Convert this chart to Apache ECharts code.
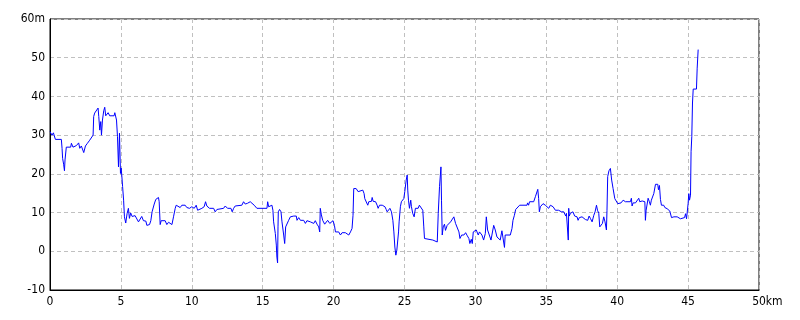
<!DOCTYPE html>
<html>
<head>
<meta charset="utf-8">
<script src="https://cdn.jsdelivr.net/npm/echarts@6/dist/echarts.min.js"></script>
<style>html,body{margin:0;padding:0;background:#fff}#c{width:800px;height:320px}</style>
</head>
<body>
<div id="c"></div>
<script>
const distanceKm = [0.0,0.14,0.24,0.33,0.38,0.80,0.85,0.89,0.96,1.02,1.06,1.15,1.46,1.51,1.62,1.86,2.02,2.10,2.21,2.31,2.38,2.50,2.64,2.80,2.92,3.04,3.08,3.15,3.27,3.39,3.44,3.51,3.58,3.63,3.70,3.79,3.86,3.93,4.10,4.21,4.52,4.57,4.69,4.76,4.83,4.90,4.97,5.02,5.07,5.12,5.19,5.25,5.34,5.44,5.53,5.60,5.69,5.79,6.00,6.12,6.24,6.36,6.47,6.59,6.76,6.83,7.02,7.11,7.20,7.35,7.46,7.53,7.65,7.70,7.77,7.84,7.96,8.12,8.24,8.36,8.48,8.60,8.71,8.83,8.90,9.00,9.18,9.30,9.53,9.65,9.84,10.0,10.17,10.31,10.41,10.55,10.71,10.87,10.97,11.06,11.25,11.54,11.65,11.77,11.89,12.24,12.36,12.52,12.66,12.76,12.85,12.95,13.06,13.18,13.53,13.65,13.77,13.93,14.12,14.24,14.40,14.59,15.30,15.35,15.42,15.49,15.65,15.72,15.77,15.89,15.96,16.00,16.05,16.08,16.10,16.19,16.29,16.36,16.48,16.55,16.62,16.71,16.83,16.95,17.19,17.37,17.42,17.54,17.66,17.77,17.89,18.01,18.12,18.24,18.36,18.48,18.60,18.71,18.83,18.95,19.02,19.06,19.14,19.23,19.37,19.49,19.58,19.73,19.82,19.96,20.06,20.13,20.36,20.48,20.60,20.83,20.95,21.07,21.19,21.30,21.37,21.42,21.59,21.73,21.82,22.06,22.15,22.20,22.32,22.41,22.48,22.67,22.72,22.79,22.96,23.07,23.14,23.24,23.43,23.55,23.62,23.71,23.78,23.90,23.97,24.08,24.18,24.25,24.32,24.39,24.46,24.53,24.58,24.62,24.67,24.71,24.78,24.95,25.02,25.12,25.19,25.23,25.28,25.35,25.44,25.49,25.58,25.68,25.77,25.96,26.05,26.19,26.29,26.36,26.41,26.48,27.00,27.07,27.31,27.38,27.47,27.57,27.61,27.66,27.73,27.82,27.89,28.01,28.13,28.25,28.36,28.48,28.60,28.72,28.84,28.91,29.03,29.19,29.31,29.43,29.54,29.61,29.71,29.78,29.85,29.96,30.06,30.20,30.29,30.41,30.46,30.58,30.70,30.77,30.86,31.00,31.10,31.17,31.29,31.40,31.52,31.64,31.75,31.87,31.99,32.05,32.10,32.46,32.58,32.65,32.75,32.84,32.98,33.12,33.64,33.68,33.75,33.82,34.11,34.23,34.35,34.40,34.46,34.51,34.58,34.70,34.77,34.93,35.05,35.17,35.29,35.48,35.57,35.64,35.76,35.87,35.99,36.06,36.23,36.27,36.37,36.42,36.46,36.51,36.55,36.58,36.62,36.70,36.81,36.88,37.00,37.17,37.24,37.33,37.52,37.64,37.76,37.83,37.92,38.02,38.11,38.23,38.30,38.35,38.44,38.54,38.61,38.70,38.77,38.86,38.96,39.05,39.14,39.24,39.28,39.33,39.42,39.52,39.61,39.71,39.83,39.94,40.04,40.18,40.27,40.42,40.58,40.93,41.00,41.05,41.12,41.29,41.40,41.52,41.59,41.76,41.95,41.99,42.04,42.11,42.18,42.27,42.34,42.41,42.51,42.58,42.70,42.86,42.91,42.98,43.05,43.12,43.28,43.36,43.52,43.64,43.71,43.76,43.83,44.00,44.23,44.35,44.46,44.58,44.75,44.82,44.89,44.98,45.00,45.05,45.10,45.17,45.21,45.26,45.31,45.36,45.59,45.64,45.71];
const elevationM = [30.9,30,30.6,31.0,28.9,28.9,26.6,24,22.5,20.8,23.6,26.9,26.9,27.9,26.9,27.3,28,26.6,27.2,26.9,25.5,27.2,27.9,28.7,28.8,30,34.8,35.7,36.2,37,34.8,31.3,33.5,30,33.9,36.3,37.2,35,35.8,35,35,35.8,33.9,29.6,21.8,30.5,20.1,21.5,19.2,16.7,13.2,8.9,7.3,9.8,11.1,8.5,9.9,9.0,9.2,9.4,7.6,7.9,9.0,7.9,7.8,6.7,6.9,7.9,10.2,12.2,13.4,13.9,13.9,12.8,6.9,7.9,7.9,7.9,6.9,7.5,7.3,6.9,8.9,11.1,11.9,11.5,11.3,11.9,11.9,11.3,11.1,11.5,11.1,11.9,10.6,10.2,11.1,11.5,12.8,11.7,11.1,11.1,10.2,10.8,11.1,11.1,11.7,11.1,10.6,11.1,10.2,11.1,11.7,11.9,11.9,12.8,12.2,12.4,12.8,12.8,11.9,11.1,11.1,12.8,11.5,11.9,11.9,10.6,7.6,4.6,1.6,-1.5,-3.0,6.3,10.2,10.8,10.2,7.6,4.2,2.0,6.3,6.7,8.0,8.9,9.1,9.1,8.0,8.7,8.0,7.9,8.0,7.2,7.9,8.0,7.6,8.0,7.2,7.9,7.0,6.3,5.0,11.1,9.4,8.0,7.0,7.2,8.0,7.2,7.6,7.9,6.7,5.0,5.0,4.2,4.8,4.8,5.0,4.2,5.0,5.9,9.3,16.2,16.2,15.4,15.8,15.8,14.9,13.6,13.9,11.9,12.8,12.9,13.9,12.9,12.8,11.9,11.1,11.9,11.9,12.4,11.5,10.8,10.2,10.6,11.1,10.2,8.0,5.0,1.1,-1.0,0.3,0.0,5.0,7.6,7.2,11.5,12.8,13.6,15.4,18.4,19.7,15.8,13.2,11.1,13.2,11.5,9.8,8.9,11.1,11.1,11.9,11.5,10.6,6.3,3.3,2.9,2.9,2.4,2.4,9.8,16.7,21.8,13.2,4.2,6.3,7.0,5.4,6.7,7.0,7.6,8.0,8.9,7.2,7.0,5.0,3.3,4.2,4.2,4.8,4.0,3.3,2.0,3.1,2.0,5.0,5.0,5.5,4.2,5.0,5.3,4.2,2.9,4.6,8.9,5.5,5.0,2.9,3.3,6.7,5.5,3.7,3.3,2.9,5.3,5.0,1.0,4.2,4.2,5.9,8.0,9.3,10.8,11.1,11.9,11.9,12.5,11.9,12.8,12.8,14.1,14.5,16.0,13.6,10.2,11.5,11.7,12.3,11.9,11.5,11.1,11.9,11.5,11.9,10.6,11.1,10.6,11.1,10.2,10.2,9.8,9.1,9.8,10.2,9.3,2.9,11.1,9.1,9.8,9.3,10.2,9.1,8.9,8.0,8.7,8.9,8.7,8.2,8.7,8.0,9.1,8.5,7.6,7.2,9.3,10.2,11.9,10.6,9.8,6.3,5.9,7.2,8.9,7.6,5.5,10.6,19.3,20.8,21.4,18.4,16.2,13.6,13.2,12.3,12.8,12.5,13.2,12.8,12.8,13.7,11.7,12.5,12.5,12.8,13.7,12.8,13.0,12.8,8.0,10.6,10.2,13.7,12.8,11.9,13.2,13.4,14.9,17.3,17.3,15.9,17.0,13.4,11.9,11.9,11.3,11.0,11.0,10.4,9.9,8.7,8.9,8.9,8.7,8.4,8.9,8.7,9.7,8.4,8.7,12.3,14.9,13.2,14.5,25.7,29.6,38.3,41.9,41.9,47.3,52.1];
const xTicks = {min: 0, max: 50, step: 5, unit: 'km'};
const yTicks = {min: -10, max: 60, step: 10, unit: 'm'};

const points = distanceKm.map((d, i) => [d, elevationM[i]]);
const FONT = '"DejaVu Sans Condensed", "Liberation Sans Narrow", "DejaVu Sans", sans-serif';

const chart = echarts.init(document.getElementById('c'), null, {renderer: 'canvas'});
chart.setOption({
  animation: false,
  backgroundColor: '#ffffff',
  grid: {left: 50, right: 41, top: 19, bottom: 30, show: true, borderColor: '#000', borderWidth: 1, backgroundColor: 'transparent'},
  xAxis: {
    type: 'value', min: xTicks.min, max: xTicks.max, interval: xTicks.step,
    axisLine: {show: true, onZero: false, lineStyle: {color: '#000', width: 1}},
    axisTick: {show: false},
    axisLabel: {color: '#000', fontFamily: FONT, fontSize: 12, margin: 6,
      formatter: v => v === xTicks.max ? '{h|' + xTicks.unit + '}' + v + xTicks.unit : String(v),
      rich: {h: {color: 'rgba(0,0,0,0)', fontFamily: FONT, fontSize: 12}}},
    splitLine: {show: true, lineStyle: {color: '#c0c0c0', type: [4, 3], width: 1}}
  },
  yAxis: {
    type: 'value', min: yTicks.min, max: yTicks.max, interval: yTicks.step,
    axisLine: {show: true, onZero: false, lineStyle: {color: '#000', width: 1}},
    axisTick: {show: false},
    axisLabel: {color: '#000', fontFamily: FONT, fontSize: 12, margin: 5,
      formatter: v => v === yTicks.max ? v + yTicks.unit : String(v)},
    splitLine: {show: true, lineStyle: {color: '#c0c0c0', type: [4, 3], width: 1}}
  },
  series: [{
    type: 'line', data: points, showSymbol: false, smooth: false,
    lineStyle: {color: '#0000ff', width: 1}, z: 3
  }]
});
</script>
</body>
</html>
